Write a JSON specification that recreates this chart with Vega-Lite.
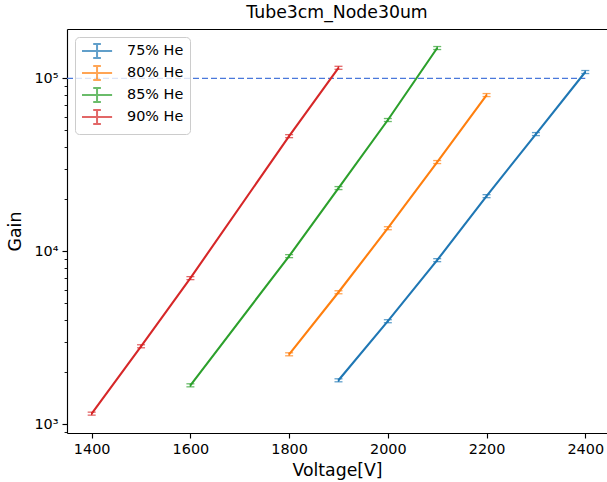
{
  "$schema": "https://vega.github.io/schema/vega-lite/v6.json",
  "width": 540,
  "height": 404,
  "autosize": "none",
  "padding": {"left": 67, "top": 29, "right": 0, "bottom": 49},
  "background": "white",
  "title": {"text": "Tube3cm_Node30um", "fontSize": 17.3, "fontWeight": "normal", "font": "DejaVu Sans", "color": "black", "offset": 8, "anchor": "middle"},
  "config": {
    "view": {"stroke": null},
    "font": "DejaVu Sans",
    "axis": {
      "domainColor": "black", "domainWidth": 1.15,
      "tickColor": "black", "tickWidth": 1.15, "tickSize": 5,
      "labelColor": "black", "labelFontSize": 14.4, "labelFont": "DejaVu Sans", "labelPadding": 4,
      "titleColor": "black", "titleFontSize": 17.3, "titleFont": "DejaVu Sans", "titleFontWeight": "normal",
      "grid": false
    }
  },
  "datasets": {
    "pts": [
      {"V": 1900, "gain": 1797, "lo": 1761, "hi": 1833, "mix": "75% He"},
      {"V": 2000, "gain": 3945, "lo": 3866, "hi": 4024, "mix": "75% He"},
      {"V": 2100, "gain": 8890, "lo": 8712, "hi": 9068, "mix": "75% He"},
      {"V": 2200, "gain": 20840, "lo": 20423, "hi": 21257, "mix": "75% He"},
      {"V": 2300, "gain": 47600, "lo": 46648, "hi": 48552, "mix": "75% He"},
      {"V": 2400, "gain": 108700, "lo": 106526, "hi": 110874, "mix": "75% He"},
      {"V": 1800, "gain": 2540, "lo": 2489, "hi": 2591, "mix": "80% He"},
      {"V": 1900, "gain": 5800, "lo": 5684, "hi": 5916, "mix": "80% He"},
      {"V": 2000, "gain": 13600, "lo": 13328, "hi": 13872, "mix": "80% He"},
      {"V": 2100, "gain": 32800, "lo": 32144, "hi": 33456, "mix": "80% He"},
      {"V": 2200, "gain": 80000, "lo": 78400, "hi": 81600, "mix": "80% He"},
      {"V": 1600, "gain": 1681, "lo": 1647, "hi": 1715, "mix": "85% He"},
      {"V": 1800, "gain": 9380, "lo": 9192, "hi": 9568, "mix": "85% He"},
      {"V": 1900, "gain": 23200, "lo": 22736, "hi": 23664, "mix": "85% He"},
      {"V": 2000, "gain": 57400, "lo": 56252, "hi": 58548, "mix": "85% He"},
      {"V": 2100, "gain": 149600, "lo": 146608, "hi": 152592, "mix": "85% He"},
      {"V": 1400, "gain": 1153, "lo": 1130, "hi": 1176, "mix": "90% He"},
      {"V": 1500, "gain": 2826, "lo": 2769, "hi": 2883, "mix": "90% He"},
      {"V": 1600, "gain": 7000, "lo": 6860, "hi": 7140, "mix": "90% He"},
      {"V": 1800, "gain": 46300, "lo": 45374, "hi": 47226, "mix": "90% He"},
      {"V": 1900, "gain": 115000, "lo": 112700, "hi": 117300, "mix": "90% He"}
    ],
    "ref": [{"x1": 1350, "x2": 2400, "y": 100000}]
  },
  "resolve": {"axis": {"x": "independent"}},
  "layer": [
    {
      "data": {"name": "ref"},
      "mark": {"type": "rule", "color": "#4a78db", "strokeWidth": 1.2, "strokeDash": [6, 3]},
      "encoding": {
        "x": {"field": "x1", "type": "quantitative", "scale": {"domain": [1350, 2444], "nice": false, "zero": false},
              "axis": {"orient": "top", "labels": false, "ticks": false, "title": null}},
        "x2": {"field": "x2"},
        "y": {"field": "y", "type": "quantitative", "scale": {"type": "log", "domain": [891, 192700], "nice": false}}
      }
    },
    {
      "data": {"name": "pts"},
      "mark": {"type": "line", "strokeWidth": 2.1},
      "encoding": {
        "x": {"field": "V", "type": "quantitative", "scale": {"domain": [1350, 2444], "nice": false, "zero": false},
              "axis": {"values": [1400, 1600, 1800, 2000, 2200, 2400], "format": "d", "title": "Voltage[V]", "titlePadding": 6, "labelFlush": false, "labelOverlap": false}},
        "y": {"field": "gain", "type": "quantitative", "scale": {"type": "log", "domain": [891, 192700], "nice": false},
              "axis": {
                "title": "Gain", "titlePadding": 9,
                "values": [900, 1000, 2000, 3000, 4000, 5000, 6000, 7000, 8000, 9000, 10000, 20000, 30000, 40000, 50000, 60000, 70000, 80000, 90000, 100000],
                "labelExpr": "datum.value == 1000 ? '10³' : datum.value == 10000 ? '10⁴' : datum.value == 100000 ? '10⁵' : ''",
                "labelOverlap": false, "labelFlush": false,
                "tickSize": {"condition": {"test": "datum.value == 1000 || datum.value == 10000 || datum.value == 100000", "value": 5}, "value": 2.9},
                "tickWidth": {"condition": {"test": "datum.value == 1000 || datum.value == 10000 || datum.value == 100000", "value": 1.15}, "value": 0.9}
              }},
        "color": {"field": "mix", "type": "nominal",
                  "scale": {"domain": ["75% He", "80% He", "85% He", "90% He"], "range": ["#1f77b4", "#ff7f0e", "#2ca02c", "#d62728"]},
                  "legend": {"orient": "top-left", "offset": 8, "padding": 6, "title": null,
                             "fillColor": "rgba(255,255,255,0.8)", "strokeColor": "#cccccc", "cornerRadius": 4,
                             "labelFontSize": 14.4, "labelFont": "DejaVu Sans", "labelColor": "black", "labelOffset": 30,
                             "symbolType": "M-1,0H3.3M1.15,-1V1M0.6,-1H1.7M0.6,1H1.7", "symbolSize": 196,
                             "symbolStrokeWidth": 2, "symbolFillColor": "transparent", "rowPadding": 0}}
      }
    },
    {
      "data": {"name": "pts"},
      "mark": {"type": "rule", "strokeWidth": 1.4},
      "encoding": {
        "x": {"field": "V", "type": "quantitative", "axis": null},
        "y": {"field": "lo", "type": "quantitative"},
        "y2": {"field": "hi"},
        "color": {"field": "mix", "type": "nominal"}
      }
    },
    {
      "data": {"name": "pts"},
      "mark": {"type": "tick", "orient": "horizontal", "size": 8, "thickness": 1.3},
      "encoding": {
        "x": {"field": "V", "type": "quantitative", "axis": null},
        "y": {"field": "lo", "type": "quantitative"},
        "color": {"field": "mix", "type": "nominal"}
      }
    },
    {
      "data": {"name": "pts"},
      "mark": {"type": "tick", "orient": "horizontal", "size": 8, "thickness": 1.3},
      "encoding": {
        "x": {"field": "V", "type": "quantitative", "axis": null},
        "y": {"field": "hi", "type": "quantitative"},
        "color": {"field": "mix", "type": "nominal"}
      }
    }
  ]
}
